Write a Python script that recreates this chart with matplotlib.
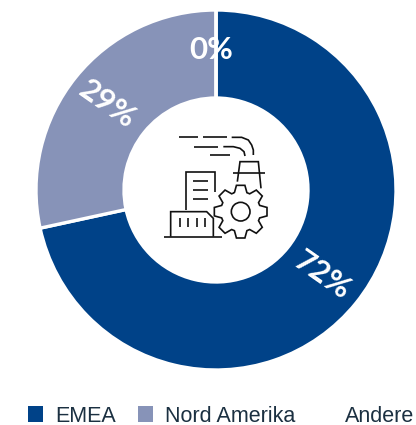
import numpy as np
import matplotlib
matplotlib.use("Agg")
import matplotlib.pyplot as plt
from matplotlib.patches import Patch, Circle

W, H = 416, 425

regions = ["EMEA", "Nord Amerika", "Andere"]
shares = [71.6, 28.4, 0.0]
share_labels = ["72%", "29%", "0%"]
colors = ["#004288", "#8793B8", "#FFFFFF"]
label_rot = [-35, -35, 0]
label_shift = [(0, 0), (-3, 0), (-5, 4)]

fig = plt.figure(figsize=(W / 100, H / 100), dpi=100)
fig.patch.set_facecolor("white")

# pie axes, 360px box around the ring
ax = fig.add_axes([36 / W, 1 - 370 / H, 360 / W, 360 / H])
wedges, _ = ax.pie(shares, colors=colors, startangle=90, counterclock=False, radius=1,
                   wedgeprops=dict(width=88 / 180, edgecolor="white", linewidth=2.4))
ax.set_xlim(-1, 1)
ax.set_ylim(-1, 1)
ax.set_aspect("equal")

for w, txt, rot, shift in zip(wedges, share_labels, label_rot, label_shift):
    ang = np.deg2rad((w.theta1 + w.theta2) / 2)
    x = 0.755 * np.cos(ang) + shift[0] / 180
    y = 0.755 * np.sin(ang) + shift[1] / 180
    ax.text(x, y, txt, color="white", fontsize=22.5, fontweight="bold", family="Lato",
            rotation=rot, ha="center", va="center", rotation_mode="anchor")

# overlay in pixel coords for the icon
ov = fig.add_axes([0, 0, 1, 1])
ov.set_xlim(0, W)
ov.set_ylim(H, 0)
ov.axis("off")
ov.patch.set_alpha(0)


def icon_line(xs, ys, lw=1.2):
    # coords are from the 3x crop starting at (150, 120)
    ov.plot(150 + np.array(xs) / 3, 120 + np.array(ys) / 3, color="#111111", lw=lw,
            solid_capstyle="butt", solid_joinstyle="miter")


# wind lines
icon_line([88, 145], [52, 52])
icon_line([160, 232], [52, 52])
icon_line([245, 275, 295, 305, 310, 310], [52, 52, 60, 75, 90, 105])
icon_line([132, 205], [80, 80])
icon_line([220, 250, 270, 282, 285], [80, 80, 85, 95, 108])
icon_line([180, 240], [105, 105])
# tower
icon_line([262, 270, 325, 333], [185, 125, 125, 205])
icon_line([250, 345], [158, 158])
# document
icon_line([108, 108, 195, 195], [270, 157, 157, 215])
for yy in [183, 210, 237]:
    icon_line([130, 175], [yy, yy])
# container and ground
icon_line([62, 62, 170, 190, 190], [350, 275, 275, 295, 350])
icon_line([42, 215], [352, 352])
for xx in [90, 115, 140, 165]:
    icon_line([xx, xx], [295, 322])
# gear
n_teeth = 8
gx, gy = [], []
for i in range(n_teeth):
    a = 2 * np.pi * i / n_teeth - np.pi / 2
    step = 2 * np.pi / n_teeth
    for off, r in [(-0.30, 60), (-0.15, 80), (0.15, 80), (0.30, 60)]:
        gx.append(272 + r * np.cos(a + off * step * 1.35))
        gy.append(275 + r * np.sin(a + off * step * 1.35))
gx.append(gx[0])
gy.append(gy[0])
icon_line(gx, gy)
ov.add_patch(Circle((150 + 272 / 3, 120 + 275 / 3), 28 / 3, fill=False, ec="#111111", lw=1.2))

handles = [Patch(facecolor=c, edgecolor="none") for c in colors]
leg = fig.legend(handles, regions, ncol=3, frameon=False, loc="center left",
                 bbox_to_anchor=(28 / W, 1 - 416 / H), borderaxespad=0, borderpad=0,
                 handlelength=0.7, handleheight=0.7, handletextpad=0.58, columnspacing=1.0,
                 prop=dict(family="Liberation Sans", size=15.5))
for t in leg.get_texts():
    t.set_color("#1B3041")

fig.savefig("out.png", dpi=100)
